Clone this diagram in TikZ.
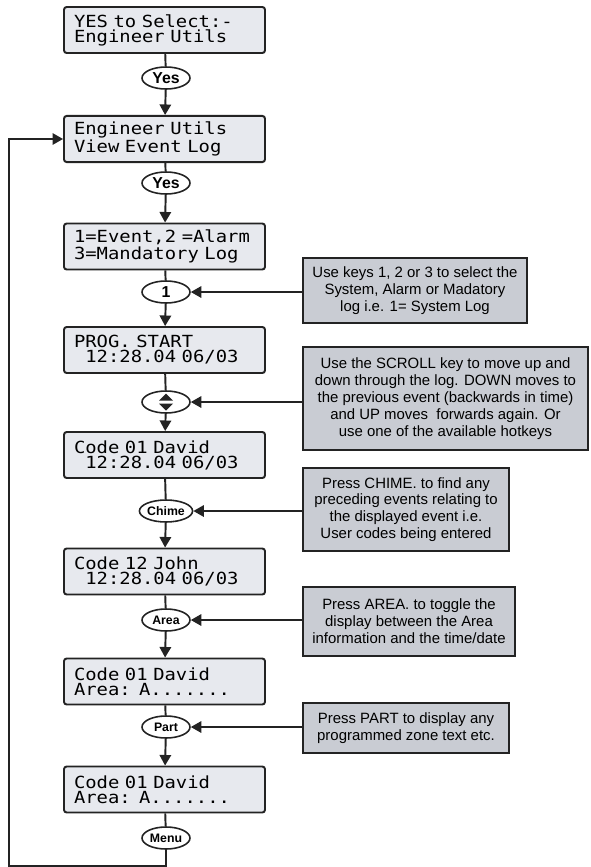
\documentclass[tikz,border=0pt]{standalone}
\usepackage{fontspec}
\setmainfont{Liberation Sans}
\newfontfamily\lcdfont[FakeStretch=1.13]{DejaVu Sans Mono}
\newcommand\lcdsetup{\lcdfont\fontsize{9.5}{8.5}\selectfont\spaceskip 0.68em\relax}
\usepackage{tikz}
\usetikzlibrary{shapes,arrows.meta,positioning,calc}

\definecolor{lcdfill}{RGB}{231,233,238}
\definecolor{notefill}{RGB}{201,204,211}
\definecolor{edge}{RGB}{35,35,35}

\begin{document}
\begin{tikzpicture}[x=0.02cm, y=-0.02cm,
    >={Triangle[length=6pt,width=6.5pt]},
    lcd/.style={draw=edge, line width=1.1pt, rounded corners=1.5pt, fill=lcdfill,
        minimum width=4.02cm, minimum height=0.92cm, inner xsep=0.2cm, text width=3.62cm,
        align=left, font=\lcdsetup},
    keybtn/.style={draw=edge, ellipse, line width=0.9pt, fill=white, inner sep=0pt,
        minimum width=0.96cm, minimum height=0.44cm, font=\bfseries\fontsize{7}{7}\selectfont},
    bigkey/.style={keybtn, font=\bfseries\fontsize{9}{9}\selectfont},
    note/.style={draw=edge, line width=1.1pt, fill=notefill, inner sep=0pt,
        align=center, font=\fontsize{8.5}{9.6}\selectfont},
    link/.style={draw=edge, line width=1.1pt}]

\useasboundingbox (0,0) rectangle (591,867);

% display screens
\node[lcd] (lcd1) at (164.5,30) {YES to Select:-\\Engineer Utils};
\node[lcd] (lcd2) at (164.5,139) {Engineer Utils\\View Event Log};
\node[lcd] (lcd3) at (164.5,246.5) {1=Event,2 =Alarm\\3=Mandatory Log};
\node[lcd] (lcd4) at (164.5,350) {PROG. START\\\hspace*{0.68em}12:28.04 06/03};
\node[lcd] (lcd5) at (164.5,455) {Code 01 David\\\hspace*{0.68em}12:28.04 06/03};
\node[lcd] (lcd6) at (164.5,571.5) {Code 12 John\\\hspace*{0.68em}12:28.04 06/03};
\node[lcd] (lcd7) at (164.5,681.5) {Code 01 David\\Area: A.......};
\node[lcd] (lcd8) at (164.5,789.5) {Code 01 David\\Area: A.......};

% keys
\node[bigkey] (k1) at (166,78) {Yes};
\node[bigkey] (k2) at (166,183) {Yes};
\node[bigkey] (k3) at (166,292) {1};
\node[keybtn] (k4) at (166,402) {};
\node[keybtn] (k5) at (166,511) {Chime};
\node[keybtn] (k6) at (166,620) {Area};
\node[keybtn] (k7) at (166,727) {Part};
\node[keybtn] (k8) at (166,838) {Menu};

% scroll key symbol
\fill[edge] ($(k4.center)+(-7,-1.5)$) -- ++(14,0) -- ++(-7,-7) -- cycle;
\fill[edge] ($(k4.center)+(-7,1.5)$) -- ++(14,0) -- ++(-7,7) -- cycle;

% notes
\node[note, minimum width=4.48cm, minimum height=1.3cm] (n1) at (415,290.5)
    {Use keys 1, 2 or 3 to select the\\System, Alarm or Madatory\\log i.e. 1= System Log};
\node[note, minimum width=5.7cm, minimum height=2.06cm] (n2) at (445.5,398.5)
    {Use the SCROLL key to move up and\\down through the log. DOWN moves to\\the previous event (backwards in time)\\and UP moves\ \ forwards again. Or\\use one of the available hotkeys};
\node[note, minimum width=4.12cm, minimum height=1.66cm] (n3) at (406,509.5)
    {Press CHIME. to find any\\preceding events relating to\\the displayed event i.e.\\User codes being entered};
\node[note, minimum width=4.24cm, minimum height=1.38cm] (n4) at (409,621.5)
    {Press AREA. to toggle the\\display between the Area\\information and the time/date};
\node[note, minimum width=4.12cm, minimum height=1.0cm] (n5) at (406,728)
    {Press PART to display any\\programmed zone text etc.};

% main flow
\draw[link] (lcd1) -- (k1);
\draw[link,->] (k1) -- (lcd2);
\draw[link] (lcd2) -- (k2);
\draw[link,->] (k2) -- (lcd3);
\draw[link] (lcd3) -- (k3);
\draw[link,->] (k3) -- (lcd4);
\draw[link] (lcd4) -- (k4);
\draw[link,->] (k4) -- (lcd5);
\draw[link] (lcd5) -- (k5);
\draw[link,->] (k5) -- (lcd6);
\draw[link] (lcd6) -- (k6);
\draw[link,->] (k6) -- (lcd7);
\draw[link] (lcd7) -- (k7);
\draw[link,->] (k7) -- (lcd8);
\draw[link] (lcd8) -- (k8);

% notes to keys
\draw[link,->] (n1.west |- k3) -- (k3.east);
\draw[link,->] (n2.west |- k4) -- (k4.east);
\draw[link,->] (n3.west |- k5) -- (k5.east);
\draw[link,->] (n4.west |- k6) -- (k6.east);
\draw[link,->] (n5.west |- k7) -- (k7.east);

% back to the menu
\coordinate (loopdown) at (166,866);
\coordinate (loopleft) at (9,866);
\draw[link,->] (k8.south) -- (loopdown) -- (loopleft) -- (loopleft |- lcd2.west) -- (lcd2.west);
\end{tikzpicture}
\end{document}
